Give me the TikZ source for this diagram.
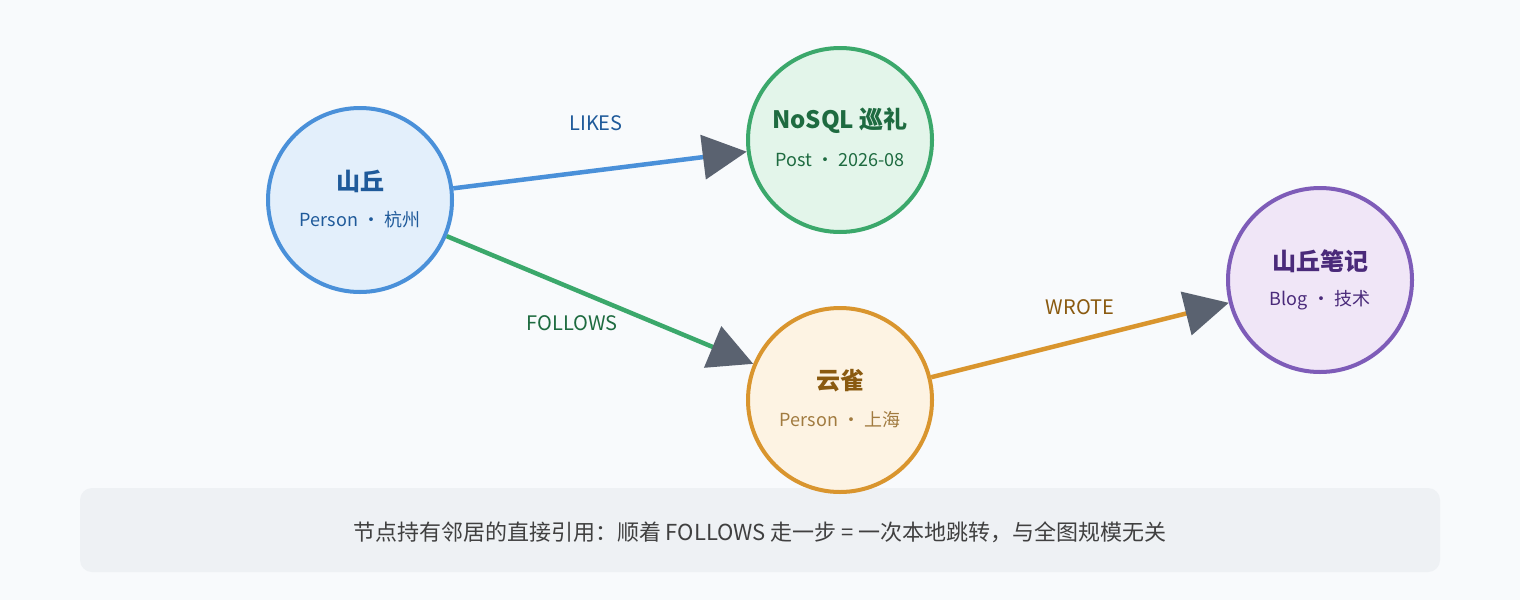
\documentclass[tikz,border=0pt]{standalone}
\usepackage{fontspec}
\setmainfont{Noto Sans CJK SC}
\usetikzlibrary{arrows.meta}
\definecolor{bgc}{HTML}{F8FAFC}
\definecolor{boxc}{HTML}{EEF1F4}
\definecolor{tipc}{HTML}{5A6270}
\definecolor{bluel}{HTML}{4A90D9}\definecolor{bluef}{HTML}{E3EFFB}\definecolor{bluet}{HTML}{1F5A9A}
\definecolor{greenl}{HTML}{3BA86B}\definecolor{greenf}{HTML}{E3F5EA}\definecolor{greent}{HTML}{1E6B40}
\definecolor{orangel}{HTML}{D9952E}\definecolor{orangef}{HTML}{FDF3E3}\definecolor{oranget}{HTML}{8A5A10}
\definecolor{purplel}{HTML}{7E5CB8}\definecolor{purplef}{HTML}{F0E6F7}\definecolor{purplet}{HTML}{4A2A7A}
\tikzset{
  ent/.style={circle,line width=4pt,minimum size=184pt,inner sep=0pt},
  rel/.style={line width=4.5pt,-{Triangle[length=44pt,width=44pt,color=tipc]}},
  lbl/.style={font=\fontsize{20}{24}\selectfont}
}
\begin{document}
\begin{tikzpicture}[x=1pt,y=-1pt]
\fill[bgc] (0,0) rectangle (1520,600);
\fill[boxc,rounded corners=12pt] (80,488) rectangle (1440,572);
\node[text=black!75,font=\fontsize{22}{26}\selectfont] (note) at (760,532)
  {节点持有邻居的直接引用：顺着 FOLLOWS 走一步 = 一次本地跳转，与全图规模无关};
% entities
\node[ent,draw=bluel,fill=bluef] (shan) at (360,200) {};
\node[ent,draw=greenl,fill=greenf] (nosql) at (840,140) {};
\node[ent,draw=orangel,fill=orangef] (que) at (840,400) {};
\node[ent,draw=purplel,fill=purplef] (blog) at (1320,280) {};
\node[text=bluet,font=\bfseries\fontsize{24}{28}\selectfont] at (360,181) {山丘};
\node[text=bluet,font=\fontsize{18}{22}\selectfont] at (360,220) {Person · 杭州};
\node[text=greent,font=\bfseries\fontsize{24}{28}\selectfont] at (840,121) {NoSQL 巡礼};
\node[text=greent,font=\fontsize{18}{22}\selectfont] at (840,160) {Post · 2026-08};
\node[text=oranget,font=\bfseries\fontsize{24}{28}\selectfont] at (840,381) {云雀};
\node[text=oranget!80,font=\fontsize{18}{22}\selectfont] at (840,420) {Person · 上海};
\node[text=purplet,font=\bfseries\fontsize{24}{28}\selectfont] at (1320,261) {山丘笔记};
\node[text=purplet,font=\fontsize{18}{22}\selectfont] at (1320,300) {Blog · 技术};
% relations
\draw[rel,bluel] (shan) -- (nosql);
\draw[rel,greenl] (shan) -- (que);
\draw[rel,orangel] (que) -- (blog);
\node[lbl,text=bluet] at (596,123) {LIKES};
\node[lbl,text=greent] at (572,323) {FOLLOWS};
\node[lbl,text=oranget] at (1080,307) {WROTE};
\end{tikzpicture}
\end{document}
